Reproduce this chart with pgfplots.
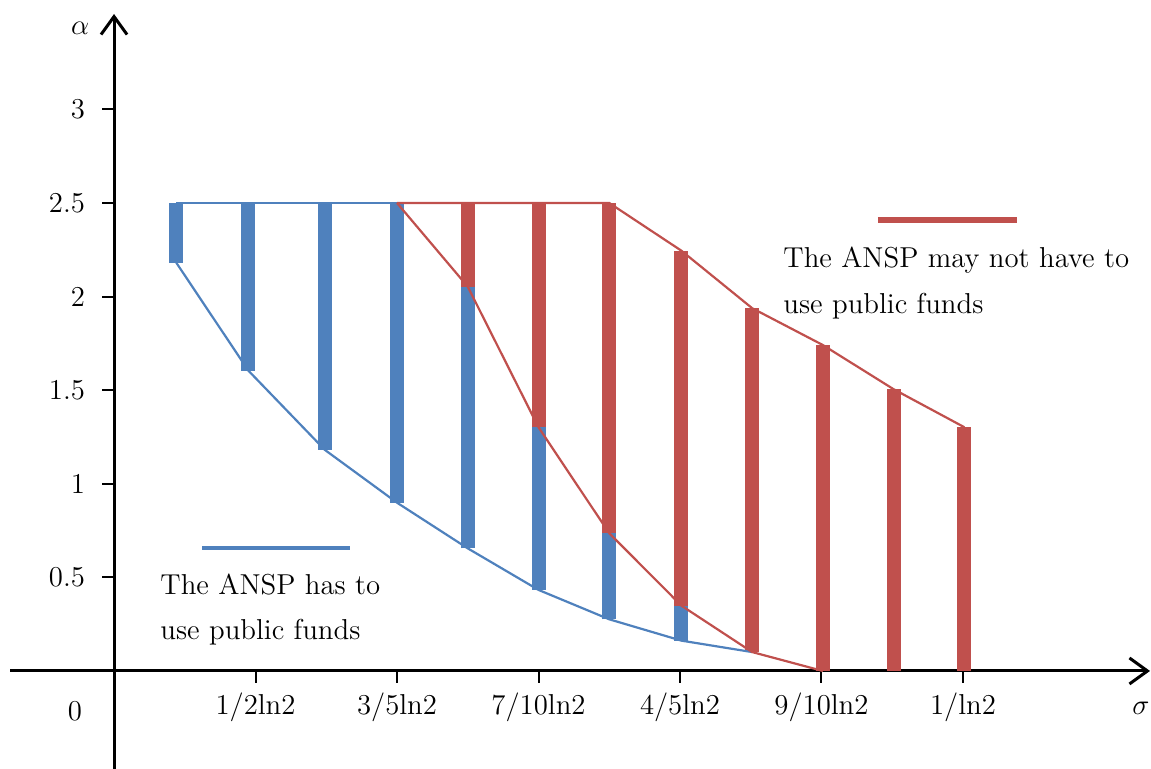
\documentclass[border=0pt]{standalone}
\usepackage{pgfplots}
\pgfplotsset{compat=1.18}
\usetikzlibrary{arrows.meta}
\definecolor{exblue}{RGB}{79,129,189}
\definecolor{exred}{RGB}{192,80,77}
\begin{document}
\fontsize{14.4}{17.28}\selectfont
\begin{tikzpicture}
\begin{axis}[
  scale only axis,
  width=518pt, height=377.5pt,
  xmin=0.4, xmax=1.1322,
  ymin=-0.5235, ymax=3.5096,
  axis x line=middle, axis y line=left,
  axis line style={line width=1.5pt, -{Straight Barb[length=9pt,width=13pt]}},
  clip=false,
  tick align=outside,
  major tick length=6pt,
  tick style={line width=1pt, black},
  xtick={0.5,0.6,0.7,0.8,0.9,1.0},
  xticklabels={1/2ln2,3/5ln2,7/10ln2,4/5ln2,9/10ln2,1/ln2},
  ytick={0.5,1,1.5,2,2.5,3},
  yticklabels={0.5,1,1.5,2,2.5,3},
  yticklabel style={xshift=-3.5pt},
]
% blue bars (x, bottom) -- (x, top)
\addplot[exblue, line width=7pt, line cap=butt, unbounded coords=jump] coordinates {
  (0.444,2.181) (0.444,2.5) (0.444,nan)
  (0.495,1.604) (0.495,2.5) (0.495,nan)
  (0.549,1.181) (0.549,2.5) (0.549,nan)
  (0.600,0.899) (0.600,2.5) (0.600,nan)
  (0.650,0.655) (0.650,2.053) (0.650,nan)
  (0.700,0.433) (0.700,1.302) (0.700,nan)
  (0.750,0.276) (0.750,0.736) (0.750,nan)
  (0.801,0.162) (0.801,0.349)
};
% red bars
\addplot[exred, line width=7pt, line cap=butt, unbounded coords=jump] coordinates {
  (0.650,2.053) (0.650,2.5) (0.650,nan)
  (0.700,1.302) (0.700,2.5) (0.700,nan)
  (0.750,0.736) (0.750,2.5) (0.750,nan)
  (0.801,0.349) (0.801,2.245) (0.801,nan)
  (0.851,0.101) (0.851,1.938) (0.851,nan)
  (0.901,0) (0.901,1.741) (0.901,nan)
  (0.951,0) (0.951,1.505) (0.951,nan)
  (1.001,0) (1.001,1.302)
};
% boundary lines
\addplot[exblue, line width=1.1pt] coordinates {(0.444,2.5) (0.600,2.5)};
\addplot[exblue, line width=1.1pt] coordinates {
  (0.444,2.181) (0.495,1.604) (0.549,1.181) (0.600,0.899) (0.650,0.655)
  (0.700,0.433) (0.750,0.276) (0.801,0.162) (0.851,0.101)};
\addplot[exred, line width=1.1pt] coordinates {
  (0.600,2.5) (0.750,2.5) (0.801,2.245) (0.851,1.938) (0.901,1.741)
  (0.951,1.505) (1.001,1.302)};
\addplot[exred, line width=1.1pt] coordinates {
  (0.600,2.5) (0.650,2.053) (0.700,1.302) (0.750,0.736) (0.801,0.349)
  (0.851,0.101) (0.901,0)};
% x axis extension to the left of the alpha axis
\draw[line width=1.5pt] (axis cs:0.3265,0) -- (axis cs:0.4,0);
% legend-like annotations
\draw[exblue, line width=2.4pt] (axis cs:0.4622,0.657) -- (axis cs:0.5668,0.657);
\node[anchor=base west, inner sep=0] at (axis cs:0.4325,0.406) {The ANSP has to};
\node[anchor=base west, inner sep=0] at (axis cs:0.4325,0.166) {use public funds};
\draw[exred, line width=2.6pt] (axis cs:0.9399,2.409) -- (axis cs:1.0382,2.409);
\node[anchor=base west, inner sep=0] at (axis cs:0.8728,2.153) {The ANSP may not have to};
\node[anchor=base west, inner sep=0] at (axis cs:0.8728,1.912) {use public funds};
% axis names and origin
\node at (axis cs:0.376,3.435) {$\alpha$};
\node at (axis cs:1.1258,-0.198) {$\sigma$};
\node at (axis cs:0.3724,-0.214) {0};
\coordinate (bbBL) at (axis cs:0.3194,-0.5235);
\coordinate (bbTR) at (axis cs:1.1329,3.5844);
\end{axis}
\pgfresetboundingbox
\path (bbBL) rectangle (bbTR);
\end{tikzpicture}
\end{document}
